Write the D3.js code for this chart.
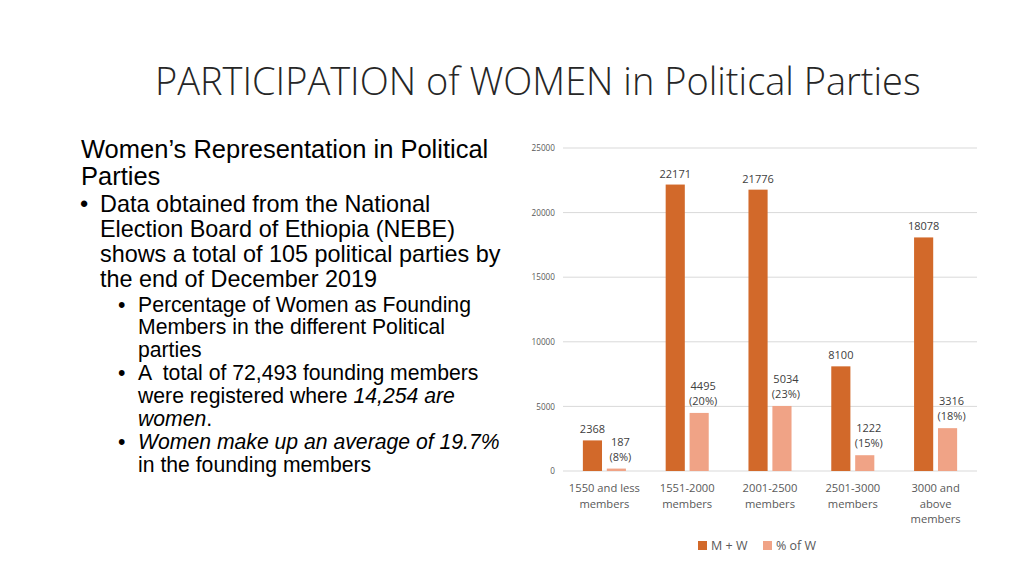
<!DOCTYPE html>
<html>
<head>
<meta charset="utf-8">
<script src="https://cdn.jsdelivr.net/npm/d3@7"></script>
<style>
  html, body { margin: 0; padding: 0; background: #ffffff; }
  svg { display: block; }
</style>
</head>
<body>
<svg id="chart" width="1024" height="576"></svg>
<script>
// ---------- DATA ----------
const categories = [
  ["1550 and less", "members"],
  ["1551-2000", "members"],
  ["2001-2500", "members"],
  ["2501-3000", "members"],
  ["3000 and", "above", "members"]
];
const seriesNames = ["M + W", "% of W"];
const totalMembers = [2368, 22171, 21776, 8100, 18078];
const womenMembers = [187, 4495, 5034, 1222, 3316];
const womenPct = ["8%", "20%", "23%", "15%", "18%"];
const yTicks = [0, 5000, 10000, 15000, 20000, 25000];

const titleText = "PARTICIPATION of WOMEN in Political Parties";
// left text: [level, segments [text, italic], bullet]
const textLines = [
  [0, [["Women\u2019s Representation in Political", false]], false],
  [0, [["Parties", false]], false],
  [1, [["Data obtained from the National", false]], true],
  [1, [["Election Board of Ethiopia (NEBE)", false]], false],
  [1, [["shows a total of 105 political parties by", false]], false],
  [1, [["the end of December 2019", false]], false],
  [2, [["Percentage of Women as Founding", false]], true],
  [2, [["Members in the different Political", false]], false],
  [2, [["parties", false]], false],
  [2, [["A  total of 72,493 founding members", false]], true],
  [2, [["were registered where ", false], ["14,254 are", true]], false],
  [2, [["women", true], [".", false]], false],
  [2, [["Women make up an average of 19.7%", true]], true],
  [2, [["in the founding members", false]], false]
];

// ---------- DRAW ----------
const svg = d3.select("#chart");
const darkColor = "#D2692A";
const lightColor = "#F0A386";

// Title
const title = svg.append("text")
  .attr("x", 155).attr("y", 95)
  .attr("font-family", "'Open Sans', sans-serif")
  .attr("font-weight", 300)
  .attr("font-size", 40)
  .attr("fill", "#262626")
  .text(titleText);
{
  const w = title.node().getComputedTextLength();
  title.attr("font-size", 40 * 766 / w);
}

// Left text block
const levelStyle = {
  0: { x: 81, size: 25.5 },
  1: { x: 100, size: 23.4, bx: 80 },
  2: { x: 138, size: 21.2, bx: 118 }
};
const baselines = [158, 185, 212, 237, 262, 287, 312, 334, 357, 380, 403, 426, 449, 472];
textLines.forEach((ln, i) => {
  const [lvl, segs, bullet] = ln;
  const st = levelStyle[lvl];
  const t = svg.append("text")
    .attr("x", st.x).attr("y", baselines[i])
    .attr("font-family", "'Liberation Sans', Arial, sans-serif")
    .attr("font-size", st.size)
    .attr("fill", "#000")
    .style("white-space", "pre");
  segs.forEach(s => {
    t.append("tspan").attr("font-style", s[1] ? "italic" : "normal").text(s[0]);
  });
  if (bullet) {
    svg.append("text")
      .attr("x", st.bx).attr("y", baselines[i])
      .attr("font-family", "'Liberation Sans', Arial, sans-serif")
      .attr("font-size", st.size)
      .attr("fill", "#000")
      .text("\u2022");
  }
});

// Chart
const plotLeft = 563, plotRight = 977, plotTop = 148, plotBottom = 471;
const y = d3.scaleLinear().domain([0, 25000]).range([plotBottom, plotTop]);
const catIdx = d3.range(categories.length);
const x0 = d3.scaleBand().domain(catIdx).range([plotLeft, plotRight])
  .paddingInner(0.48).paddingOuter(0.24);
const x1 = d3.scaleBand().domain([0, 1]).range([0, x0.bandwidth()]).paddingInner(0.2);

// gridlines
svg.append("g").selectAll("line").data(yTicks).join("line")
  .attr("x1", plotLeft).attr("x2", plotRight)
  .attr("y1", d => y(d)).attr("y2", d => y(d))
  .attr("stroke", "#d9d9d9").attr("stroke-width", 1);

// y axis labels
const yAxis = d3.axisLeft(y).tickValues(yTicks).tickSize(0).tickPadding(8).tickFormat(d3.format("d"));
const ga = svg.append("g").attr("transform", `translate(${plotLeft},0)`).call(yAxis);
ga.select(".domain").remove();
ga.selectAll("text")
  .attr("font-family", "'Open Sans', sans-serif")
  .attr("font-size", 8.2)
  .attr("fill", "#595959");

// bars
const rows = catIdx.map(i => ({ i, vals: [totalMembers[i], womenMembers[i]] }));
const groups = svg.append("g").selectAll("g").data(rows).join("g")
  .attr("transform", d => `translate(${x0(d.i)},0)`);
groups.selectAll("rect").data(d => d.vals.map((v, k) => ({ v, k }))).join("rect")
  .attr("x", d => x1(d.k))
  .attr("width", x1.bandwidth())
  .attr("y", d => y(d.v))
  .attr("height", d => y(0) - y(d.v))
  .attr("fill", d => d.k === 0 ? darkColor : lightColor);

// data labels
const labelFont = "'Open Sans', sans-serif";
groups.append("text")
  .attr("x", x1(0) + x1.bandwidth() / 2)
  .attr("y", d => y(d.vals[0]) - 7)
  .attr("text-anchor", "middle")
  .attr("font-family", labelFont).attr("font-size", 11).attr("fill", "#404040")
  .text(d => d.vals[0]);
const lt = groups.append("text")
  .attr("text-anchor", "middle")
  .attr("font-family", labelFont).attr("font-size", 11).attr("fill", "#404040");
lt.append("tspan")
  .attr("x", x1(1) + x1.bandwidth() / 2 + 4)
  .attr("y", d => y(d.vals[1]) - 23)
  .text(d => d.vals[1]);
lt.append("tspan")
  .attr("x", x1(1) + x1.bandwidth() / 2 + 4)
  .attr("y", d => y(d.vals[1]) - 8)
  .text(d => "(" + womenPct[d.i] + ")");

// category labels
const catG = svg.append("g").selectAll("text").data(rows).join("text")
  .attr("text-anchor", "middle")
  .attr("font-family", labelFont).attr("font-size", 11.2).attr("fill", "#595959");
catG.each(function(d) {
  const t = d3.select(this);
  categories[d.i].forEach((s, j) => {
    t.append("tspan")
      .attr("x", x0(d.i) + x0.bandwidth() / 2)
      .attr("y", 492 + j * 15.5)
      .text(s);
  });
});

// legend
const legend = svg.append("g");
const legendItems = [
  { name: seriesNames[0], color: darkColor, x: 698 },
  { name: seriesNames[1], color: lightColor, x: 763 }
];
legendItems.forEach(it => {
  legend.append("rect").attr("x", it.x).attr("y", 541).attr("width", 9).attr("height", 9).attr("fill", it.color);
  legend.append("text").attr("x", it.x + 13).attr("y", 550)
    .attr("font-family", labelFont).attr("font-size", 12.5).attr("fill", "#595959")
    .text(it.name);
});
</script>
</body>
</html>
